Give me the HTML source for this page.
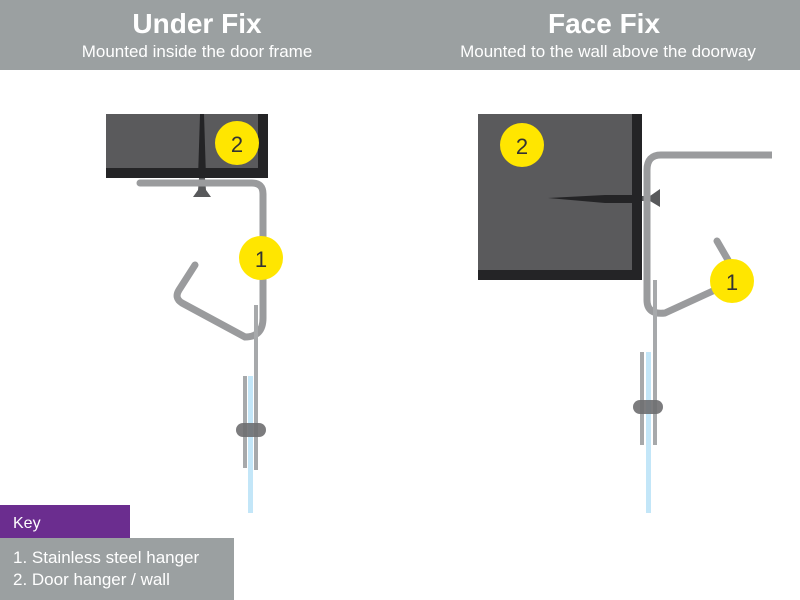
<!DOCTYPE html>
<html><head><meta charset="utf-8"><style>
html,body{margin:0;padding:0;background:#fff;width:800px;height:600px;overflow:hidden}
svg{display:block}
text{font-family:"Liberation Sans",sans-serif}
</style></head><body>
<svg width="800" height="600" viewBox="0 0 800 600" xmlns="http://www.w3.org/2000/svg">
<rect x="0" y="0" width="800" height="70" fill="#9ba0a1"/>
<text x="197" y="33" font-size="28" font-weight="bold" fill="#fff" text-anchor="middle">Under Fix</text>
<text x="197" y="57" font-size="17" fill="#fff" text-anchor="middle">Mounted inside the door frame</text>
<text x="604" y="33" font-size="28" font-weight="bold" fill="#fff" text-anchor="middle">Face Fix</text>
<text x="608" y="57" font-size="17" fill="#fff" text-anchor="middle">Mounted to the wall above the doorway</text>

<!-- LEFT -->
<rect x="106" y="114" width="162" height="64" fill="#242426"/>
<rect x="106" y="114" width="152" height="54" fill="#5a5a5c"/>
<polygon points="200,114 204,114 206,178 198,178" fill="#242426"/>
<polygon points="199,178 205,178 206,190 211,197 193,197 198,190" fill="#58595b"/>
<path d="M140,183 H252 Q263,183 263,194 V318 Q263,337 245,337 L182,303 Q174,298 179,290 L195,265" fill="none" stroke="#9a9b9d" stroke-width="7" stroke-linecap="round" stroke-linejoin="round"/>
<rect x="254" y="305" width="4" height="165" fill="#a7a9ab"/>
<rect x="243" y="376" width="4" height="92" fill="#a7a9ab"/>
<rect x="248" y="376" width="5" height="137" fill="#c3e6f8"/>
<rect x="236" y="423" width="30" height="14" rx="7" fill="#6e6e70" opacity="0.9"/>
<circle cx="237" cy="143" r="22" fill="#ffe600"/>
<text x="237" y="152" font-size="22" fill="#333" text-anchor="middle">2</text>
<circle cx="261" cy="258" r="22" fill="#ffe600"/>
<text x="261" y="267" font-size="22" fill="#333" text-anchor="middle">1</text>

<!-- RIGHT -->
<rect x="478" y="114" width="164" height="166" fill="#242426"/>
<rect x="478" y="114" width="154" height="156" fill="#5a5a5c"/>
<polygon points="548,198 605,195 642,195 642,203 605,203" fill="#242426"/>
<polygon points="642,196 650,196 660,189 660,207 650,201 642,201" fill="#58595b"/>
<path d="M772,155 H661 Q647,155 647,170 V300 Q647,315 665,313 L715,290" fill="none" stroke="#9a9b9d" stroke-width="7" stroke-linejoin="round"/>
<line x1="717" y1="241" x2="728" y2="260" stroke="#9a9b9d" stroke-width="7" stroke-linecap="round"/>
<rect x="653" y="280" width="4" height="165" fill="#a7a9ab"/>
<rect x="640" y="352" width="4" height="93" fill="#a7a9ab"/>
<rect x="646" y="352" width="5" height="161" fill="#c3e6f8"/>
<rect x="633" y="400" width="30" height="14" rx="7" fill="#6e6e70" opacity="0.9"/>
<circle cx="522" cy="145" r="22" fill="#ffe600"/>
<text x="522" y="154" font-size="22" fill="#333" text-anchor="middle">2</text>
<circle cx="732" cy="281" r="22" fill="#ffe600"/>
<text x="732" y="290" font-size="22" fill="#333" text-anchor="middle">1</text>

<!-- KEY -->
<rect x="0" y="505" width="130" height="33" fill="#6b2d8f"/>
<text x="13" y="528" font-size="16" fill="#fff">Key</text>
<rect x="0" y="538" width="234" height="62" fill="#9ba0a1"/>
<text x="13" y="563" font-size="17" fill="#fff">1. Stainless steel hanger</text>
<text x="13" y="585" font-size="17" fill="#fff">2. Door hanger / wall</text>
</svg>
</body></html>
